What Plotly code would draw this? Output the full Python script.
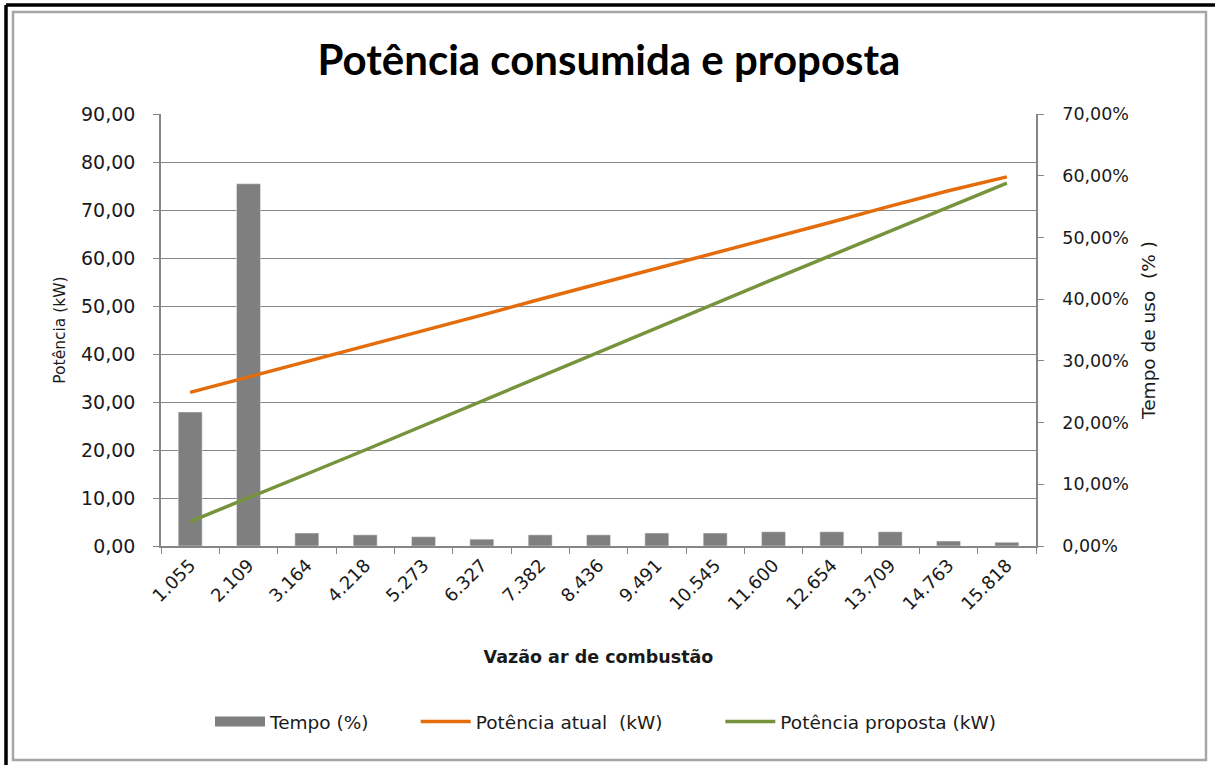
import plotly.graph_objects as go

vazao = ["1.055", "2.109", "3.164", "4.218", "5.273", "6.327", "7.382", "8.436",
         "9.491", "10.545", "11.600", "12.654", "13.709", "14.763", "15.818"]

tempo = [0.217, 0.587, 0.021, 0.018, 0.015, 0.011, 0.018, 0.018,
         0.021, 0.021, 0.023, 0.023, 0.023, 0.008, 0.006]

pot_atual = [32.0, 35.2, 38.4, 41.6, 44.9, 48.1, 51.4, 54.6,
             57.9, 61.1, 64.3, 67.5, 70.8, 74.0, 76.9]

pot_proposta = [5.1, 10.0, 15.0, 20.0, 25.1, 30.1, 35.2, 40.3,
                45.4, 50.5, 55.6, 60.6, 65.6, 70.6, 75.6]

cinza = "#868686"
txt = "#1a1a1a"
fonte = "DejaVu Sans"
nb = "\u00a0"

fig = go.Figure()

fig.add_trace(go.Bar(
    x=vazao, y=tempo, name="Tempo (%)",
    marker_color="#7F7F7F", yaxis="y", showlegend=False,
))
# item de legenda com retângulo largo, como no Excel
fig.add_trace(go.Scatter(
    x=[None], y=[None], name="Tempo (%)" + nb * 7, mode="lines",
    line=dict(color="#7F7F7F", width=14), yaxis="y",
))
fig.add_trace(go.Scatter(
    x=vazao, y=pot_atual, name="Potência atual  (kW)" + nb * 9,
    mode="lines", line=dict(color="#E46C0A", width=3.5), yaxis="y2",
))
fig.add_trace(go.Scatter(
    x=vazao, y=pot_proposta, name="Potência proposta (kW)",
    mode="lines", line=dict(color="#77933C", width=3.5), yaxis="y2",
))

# moldura (contorno preto + borda cinza do gráfico)
W, H = 875, 432
x0, y0 = 161, 546
px = lambda v: (v - x0) / W
py = lambda v: (y0 - v) / H

fig.add_shape(type="rect", xref="paper", yref="paper",
              x0=px(13), x1=px(1206), y0=py(760), y1=py(12),
              line=dict(color="#A6A6A6", width=2.5), layer="below")
fig.add_shape(type="line", xref="paper", yref="paper",
              x0=px(6), x1=px(1215), y0=py(5), y1=py(5),
              line=dict(color="black", width=3.5))
fig.add_shape(type="line", xref="paper", yref="paper",
              x0=px(6), x1=px(6), y0=py(5), y1=py(765),
              line=dict(color="black", width=3.5))

fig.update_layout(
    width=1215, height=765,
    margin=dict(l=161, r=179, t=114, b=219),
    paper_bgcolor="white", plot_bgcolor="white",
    separators=",.",
    font=dict(family=fonte, size=18, color=txt),
    title=dict(text="<b>Potência consumida e proposta</b>",
               x=609 / 1215, xref="container", xanchor="center",
               y=1 - 60 / 765, yanchor="middle",
               font=dict(family="Lato", size=42, color="black")),
    bargap=0.59,
    showlegend=True,
    legend=dict(orientation="h", x=px(210), xanchor="left",
                y=py(722), yanchor="middle",
                font=dict(size=18.5, color=txt), itemwidth=50,
                tracegroupgap=0),
    xaxis=dict(
        type="category", tickangle=-45, tickson="boundaries",
        showline=True, linecolor=cinza, linewidth=1.5,
        ticks="outside", ticklen=6, tickcolor=cinza,
        showgrid=False, tickfont=dict(size=18, color=txt),
        title=dict(text="<b>Vazão ar de combustão</b>", standoff=38,
                   font=dict(size=17.5, color=txt)),
    ),
    yaxis=dict(
        side="right", range=[0, 0.7], dtick=0.1, tickformat=".2%",
        showline=True, linecolor=cinza, linewidth=1.5,
        ticks="outside", ticklen=6, tickcolor=cinza,
        ticklabelstandoff=15,
        showgrid=False, zeroline=False,
        tickfont=dict(size=17.5, color=txt),
        title=dict(text="Tempo de uso  (% )", standoff=14,
                   font=dict(size=18.5, color=txt)),
    ),
    yaxis2=dict(
        overlaying="y", side="left", range=[0, 90], dtick=10,
        tickformat=".2f",
        showline=True, linecolor=cinza, linewidth=1.5,
        ticks="outside", ticklen=6, tickcolor=cinza,
        ticklabelstandoff=14,
        showgrid=True, gridcolor=cinza, gridwidth=1.2, zeroline=False,
        tickfont=dict(size=19, color=txt),
        title=dict(text="Potência (kW)", standoff=12,
                   font=dict(size=15.5, color=txt)),
    ),
)

fig.write_html("out.html", config={"displayModeBar": False},
               post_script="document.body.style.margin='0';")
